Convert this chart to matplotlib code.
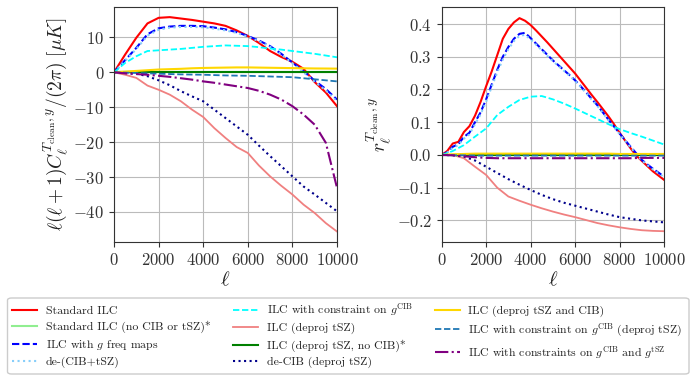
import matplotlib
matplotlib.use("Agg")
import matplotlib.pyplot as plt
from matplotlib.patches import FancyBboxPatch
import numpy as np

plt.rcParams['font.family'] = 'serif'
plt.rcParams['font.serif'] = ['cmr10']
plt.rcParams['mathtext.fontset'] = 'cm'
plt.rcParams['axes.formatter.use_mathtext'] = True
plt.rcParams['text.color'] = '#222222'
plt.rcParams['axes.labelcolor'] = '#222222'
plt.rcParams['xtick.color'] = '#333333'
plt.rcParams['ytick.color'] = '#333333'

# ---------------- data ----------------
ell = [0, 500, 1000, 1500, 2000, 2500, 3000, 3500, 4000, 4500, 5000,
       5500, 6000, 6500, 7000, 7500, 8000, 8500, 9000, 9500, 10000]

# Left panel: ell(ell+1) C_ell / (2 pi) [muK]
cl_standard = [0, 5.1, 9.9, 14.0, 15.6, 15.8, 15.4, 15.0, 14.5, 14.0, 13.3,
               12.0, 10.4, 8.4, 6.1, 4.4, 3.0, 1.0, -2.8, -5.8, -9.7]
cl_standard_nofg = [0] * 21
cl_gfreq = [0, 3.5, 7.0, 10.9, 12.6, 13.1, 13.3, 13.3, 13.2, 12.8, 12.3,
            11.5, 10.4, 9.1, 7.5, 5.3, 2.8, 0.3, -2.4, -4.8, -7.8]
cl_decib_tsz = [0, 3.3, 6.7, 10.5, 12.2, 12.8, 13.0, 13.0, 12.9, 12.5, 12.0,
                11.3, 10.2, 8.9, 7.3, 5.1, 2.6, 0.0, -2.7, -5.2, -8.3]
cl_gcib = [0, 2.7, 4.6, 6.1, 6.3, 6.5, 6.7, 7.0, 7.3, 7.5, 7.7,
           7.6, 7.5, 7.2, 6.8, 6.5, 6.1, 5.7, 5.3, 4.8, 4.3]
cl_deproj_tsz = [0, -0.7, -1.6, -3.8, -5.0, -6.4, -8.3, -10.7, -12.8, -16.0, -18.8,
                 -21.4, -23.1, -26.7, -29.8, -32.5, -35.0, -37.9, -40.3, -43.2, -45.6]
cl_deproj_tsz_nocib = [0] * 21
cl_decib_deproj = [0, -0.2, -0.4, -1.1, -2.3, -3.7, -5.4, -6.9, -8.3, -10.7, -13.1,
                   -15.5, -17.9, -21.0, -24.0, -26.9, -29.8, -32.7, -35.0, -37.4, -39.8]
cl_deproj_both = [0, 0.2, 0.4, 0.6, 0.8, 0.9, 1.0, 1.15, 1.25, 1.3, 1.35,
                  1.4, 1.4, 1.35, 1.3, 1.25, 1.2, 1.15, 1.1, 1.08, 1.05]
cl_gcib_deproj = [0, -0.1, -0.2, -0.3, -0.4, -0.5, -0.6, -0.65, -0.7, -0.8, -0.9,
                  -0.95, -1.0, -1.1, -1.2, -1.3, -1.4, -1.7, -2.0, -2.3, -2.6]
cl_gcib_gtsz = [0, -0.3, -0.5, -0.7, -1.0, -1.3, -1.7, -2.1, -2.6, -3.0, -3.5,
                -4.0, -4.5, -5.3, -6.4, -7.8, -9.7, -12.1, -15.0, -20.2, -33.1]

# Right panel: correlation coefficient r_ell
ell_f = [0, 250, 500, 750, 1000, 1250, 1500, 1750, 2000, 2250, 2500, 2750,
         3000, 3250, 3500, 3750, 4000, 4250, 4500, 4750, 5000, 5250, 5500,
         5750, 6000, 6250, 6500, 6750, 7000, 7250, 7500, 7750, 8000, 8250,
         8500, 8750, 9000, 9250, 9500, 9750, 10000]
r_standard = [0, 0.012, 0.035, 0.040, 0.070, 0.088, 0.120, 0.162, 0.210, 0.255,
              0.305, 0.355, 0.385, 0.405, 0.418, 0.410, 0.397, 0.380, 0.362, 0.344,
              0.325, 0.306, 0.287, 0.268, 0.249, 0.227, 0.205, 0.183, 0.162, 0.140,
              0.118, 0.094, 0.068, 0.044, 0.020, -0.002, -0.018, -0.034, -0.050,
              -0.063, -0.076]
r_gfreq = [0, 0.008, 0.025, 0.033, 0.055, 0.068, 0.100, 0.130, 0.170, 0.215,
           0.260, 0.300, 0.330, 0.355, 0.370, 0.373, 0.357, 0.340, 0.323, 0.306,
           0.289, 0.274, 0.259, 0.244, 0.228, 0.210, 0.191, 0.171, 0.152, 0.130,
           0.108, 0.087, 0.066, 0.045, 0.025, 0.005, -0.015, -0.029, -0.042,
           -0.054, -0.066]
r_decib_tsz = [0, 0.007, 0.022, 0.030, 0.050, 0.063, 0.094, 0.124, 0.163, 0.208,
               0.252, 0.292, 0.323, 0.348, 0.364, 0.367, 0.353, 0.337, 0.320, 0.303,
               0.287, 0.272, 0.257, 0.242, 0.226, 0.208, 0.189, 0.169, 0.150, 0.128,
               0.106, 0.085, 0.064, 0.043, 0.023, 0.003, -0.017, -0.031, -0.044,
               -0.056, -0.068]
r_standard_nofg = [0] * 21
r_gcib = [0, 0.012, 0.030, 0.056, 0.081, 0.122, 0.147, 0.168, 0.178, 0.180, 0.170,
          0.157, 0.142, 0.126, 0.110, 0.094, 0.079, 0.067, 0.056, 0.044, 0.032]
r_deproj_tsz = [0, 0.0, -0.010, -0.036, -0.061, -0.100, -0.127, -0.140, -0.152, -0.163,
                -0.173, -0.182, -0.190, -0.199, -0.208, -0.215, -0.221, -0.226, -0.230,
                -0.232, -0.233]
r_deproj_tsz_nocib = [0] * 21
r_decib_deproj = [0, -0.001, -0.005, -0.017, -0.036, -0.055, -0.074, -0.091, -0.107,
                  -0.122, -0.135, -0.146, -0.155, -0.164, -0.173, -0.182, -0.190,
                  -0.195, -0.200, -0.203, -0.206]
r_deproj_both = [0, 0.002, 0.003, 0.004, 0.004, 0.004, 0.004, 0.004, 0.004, 0.004,
                 0.004, 0.004, 0.004, 0.004, 0.004, 0.004, 0.003, 0.003, 0.003,
                 0.003, 0.003]
r_gcib_deproj = [0, -0.001, -0.001, -0.002, -0.002, -0.002, -0.002, -0.002, -0.002,
                 -0.002, -0.002, -0.002, -0.002, -0.002, -0.002, -0.002, -0.002,
                 -0.002, -0.002, -0.002, -0.002]
r_gcib_gtsz = [0, -0.001, -0.004, -0.007, -0.009, -0.010, -0.010, -0.010, -0.010,
               -0.010, -0.010, -0.010, -0.010, -0.010, -0.010, -0.010, -0.010,
               -0.010, -0.009, -0.009, -0.009]

labels = [
    'Standard ILC',
    'Standard ILC (no CIB or tSZ)*',
    r'ILC with $g$ freq maps',
    'de-(CIB+tSZ)',
    r'ILC with constraint on $g^{\mathrm{CIB}}$',
    'ILC (deproj tSZ)',
    'ILC (deproj tSZ, no CIB)*',
    'de-CIB (deproj tSZ)',
    'ILC (deproj tSZ and CIB)',
    r'ILC with constraint on $g^{\mathrm{CIB}}$ (deproj tSZ)',
    r'ILC with constraints on $g^{\mathrm{CIB}}$ and $g^{\mathrm{tSZ}}$',
]

styles = [
    dict(color='red', ls='-', lw=1.5),
    dict(color='lightgreen', ls='-', lw=1.5),
    dict(color='blue', ls=(0, (3.5, 1.5)), lw=1.5),
    dict(color='lightskyblue', ls=':', lw=1.5),
    dict(color='cyan', ls=(0, (3.5, 1.5)), lw=1.3),
    dict(color='lightcoral', ls='-', lw=1.3),
    dict(color='green', ls='-', lw=1.5),
    dict(color='darkblue', ls=':', lw=1.5),
    dict(color='gold', ls='-', lw=1.5),
    dict(color='tab:blue', ls=(0, (3.5, 1.5)), lw=1.3),
    dict(color='purple', ls='-.', lw=1.5),
]

left_series = [cl_standard, cl_standard_nofg, cl_gfreq, cl_decib_tsz, cl_gcib,
               cl_deproj_tsz, cl_deproj_tsz_nocib, cl_decib_deproj, cl_deproj_both,
               cl_gcib_deproj, cl_gcib_gtsz]
right_series = [r_standard, r_standard_nofg, r_gfreq, r_decib_tsz, r_gcib,
                r_deproj_tsz, r_deproj_tsz_nocib, r_decib_deproj, r_deproj_both,
                r_gcib_deproj, r_gcib_gtsz]

W, H = 694, 381
fig = plt.figure(figsize=(W / 100, H / 100), dpi=100)
ax1 = fig.add_axes([0.1643, 0.3648, 0.3213, 0.6168])
ax2 = fig.add_axes([0.6364, 0.3648, 0.3204, 0.6168])

handles = []
for ys, st, lab in zip(left_series, styles, labels):
    h, = ax1.plot(ell, ys, label=lab, **st)
    handles.append(h)
for ys, st in zip(right_series, styles):
    x = ell_f if len(ys) == len(ell_f) else ell
    ax2.plot(x, ys, **st)

for ax in (ax1, ax2):
    ax.set_xlim(0, 10000)
    ax.set_xticks([0, 2000, 4000, 6000, 8000, 10000])
    ax.grid(True, color='#bbbbbb', lw=0.8)
    ax.set_axisbelow(True)
    ax.tick_params(labelsize=12, length=3.5, color='#333333')
    for s in ax.spines.values():
        s.set_color('#333333')
    ax.set_xlabel(r'$\ell$', fontsize=15, labelpad=2)

ax1.set_ylim(-48.6, 18.7)
ax1.set_yticks([-40, -30, -20, -10, 0, 10])
ax1.set_ylabel(r'$\ell(\ell+1)C_\ell^{T_{\mathrm{clean}},y}/(2\pi)\ [\mu K]$', fontsize=14, labelpad=2)

ax2.set_ylim(-0.266, 0.452)
ax2.set_yticks([-0.2, -0.1, 0.0, 0.1, 0.2, 0.3, 0.4])
ax2.set_yticklabels(['$-0.2$', '$-0.1$', '$0.0$', '$0.1$', '$0.2$', '$0.3$', '$0.4$'])
ax2.set_ylabel(r'$r_\ell^{T_{\mathrm{clean}},y}$', fontsize=14, labelpad=2)

# legend box (frame drawn separately to span the figure width)
x0, x1, y0, y1 = 7.5, 689, 298, 374
frame = FancyBboxPatch((x0 / W, 1 - y1 / H), (x1 - x0) / W, (y1 - y0) / H,
                       boxstyle='round,pad=0,rounding_size=0.006',
                       transform=fig.transFigure, facecolor='white',
                       edgecolor='#cccccc', lw=1.0, zorder=1)
fig.patches.append(frame)

leg = fig.legend(handles=handles, loc='upper left',
                 bbox_to_anchor=((x0 + 0.5) / W, 1 - (y0 - 1) / H),
                 ncol=3, fontsize=8.5, frameon=False,
                 handlelength=2.1, handletextpad=0.75, labelspacing=0.42,
                 columnspacing=1.9, borderpad=0.35, borderaxespad=0)
leg.set_zorder(2)

fig.savefig('out.png', dpi=100)
